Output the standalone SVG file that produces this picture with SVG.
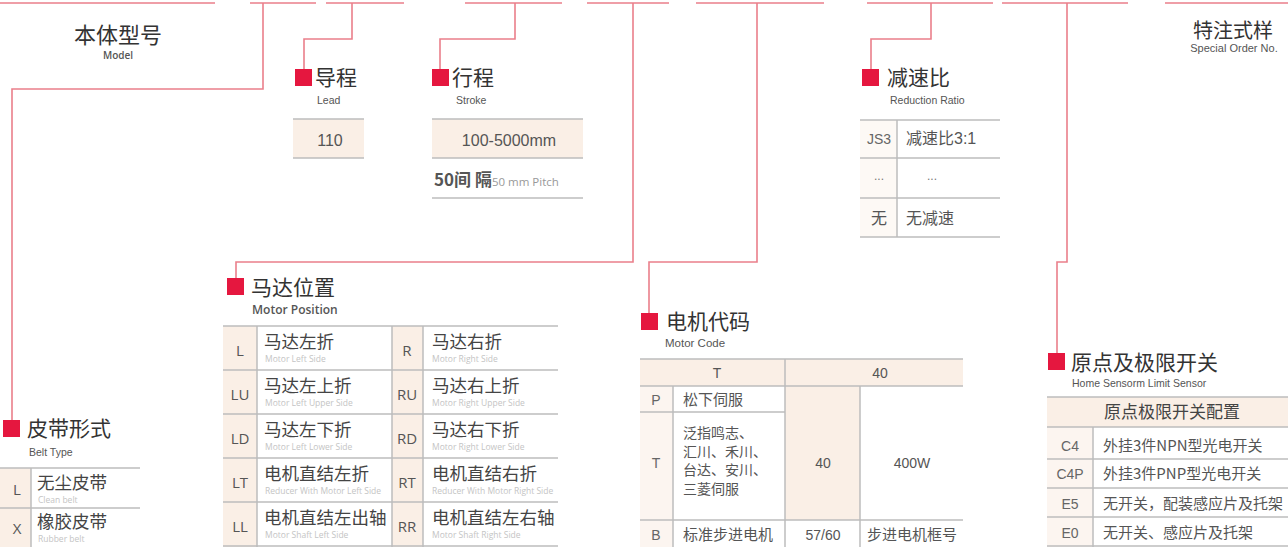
<svg xmlns="http://www.w3.org/2000/svg" width="1288" height="547" viewBox="0 0 1288 547">
<style>
.cn{font-family:"Noto Sans CJK SC","Noto Sans",sans-serif;}
.h{font-size:21px;fill:#333;}
.en{font-family:"Liberation Sans","Open Sans",sans-serif;}
.sub{font-size:10.5px;fill:#555;}
.c{font-family:"Noto Sans CJK SC",sans-serif;font-size:17.5px;fill:#444;}
.e{font-family:"Open Sans","Liberation Sans",sans-serif;font-size:8.5px;fill:#c4c4c4;}
.k{font-family:"Open Sans","Liberation Sans",sans-serif;font-size:15px;fill:#555;text-anchor:middle;}
.t{font-family:"Noto Sans CJK SC",sans-serif;font-size:15px;fill:#555;}
.tt{font-family:"Noto Sans CJK SC",sans-serif;font-size:14px;fill:#555;}
.mid{text-anchor:middle;}
.sq{fill:#e5173f;}
.ln{stroke:#bdbdbd;stroke-width:1.5;fill:none;}
.cream{fill:#faefe6;}
.con{stroke:#ea7f8b;stroke-width:1.6;fill:none;}
</style>

<g id="connectors">
<path class="con" d="M0 3H215M250 3H316M326 3H404M465 3H562M587 3H669M696 3H824M867 3H993M1002 3H1128M1165 3H1288"/>
<path class="con" d="M263 3V89H12V420"/>
<path class="con" d="M352 3V39H304V69"/>
<path class="con" d="M515 3V39H440V69"/>
<path class="con" d="M633 3V262H236V279"/>
<path class="con" d="M757 3V262H649V313"/>
<path class="con" d="M931 3V39H871V69"/>
<path class="con" d="M1067 3V262H1057V353"/>
</g>

<g id="model">
<text class="cn mid" x="118" y="43" font-size="22" fill="#333">本体型号</text>
<text class="mid" x="118" y="59" font-family="Open Sans, sans-serif" font-size="10" fill="#555" font-weight="600">Model</text>
</g>

<g id="special">
<text class="cn mid" x="1233" y="38" font-size="20" fill="#333">特注式样</text>
<text class="en mid" x="1234" y="52" font-size="11" fill="#555">Special Order No.</text>
</g>

<g id="lead">
<rect class="sq" x="295" y="69" width="17" height="17"/>
<text class="cn h" x="315" y="85">导程</text>
<text class="en sub" x="317" y="104">Lead</text>
<rect class="cream" x="293" y="119" width="71" height="39"/>
<path class="ln" d="M293 119H364M293 158H364"/>
<text class="en mid" x="330" y="146" font-size="16" fill="#555">110</text>
</g>

<g id="stroke">
<rect class="sq" x="432" y="69" width="17" height="17"/>
<text class="cn h" x="452" y="85">行程</text>
<text class="en sub" x="456" y="104">Stroke</text>
<rect class="cream" x="432" y="119" width="151" height="39"/>
<path class="ln" d="M432 119H583M432 158H583M432 198H583"/>
<text class="en mid" x="509" y="146" font-size="16" fill="#555">100-5000mm</text>
<text x="434" y="186"><tspan class="cn" font-size="17" fill="#555" font-weight="bold">50间 隔</tspan><tspan font-family="Open Sans, sans-serif" font-size="11.5" fill="#999">50 mm Pitch</tspan></text>
</g>

<g id="reduction">
<rect class="sq" x="862" y="69" width="17" height="17"/>
<text class="cn h" x="887" y="85">减速比</text>
<text class="en sub" x="890" y="104">Reduction Ratio</text>
<rect class="cream" x="860" y="120" width="37" height="117" opacity="0.4"/>
<path class="ln" d="M860 120H1000M860 158H1000M860 198H1000M860 237H1000M897 120V237"/>
<text class="en mid" x="879" y="144" font-size="14" fill="#666">JS3</text>
<text x="906" y="144"><tspan class="cn" font-size="16" fill="#555">减速比</tspan><tspan class="en" font-size="16" fill="#555">3:1</tspan></text>
<text class="en mid" x="879" y="180" font-size="12" fill="#777">...</text>
<text class="en mid" x="932" y="180" font-size="12" fill="#777">...</text>
<text class="cn mid" x="879" y="224" font-size="16" fill="#555">无</text>
<text class="cn" x="906" y="224" font-size="16" fill="#555">无减速</text>
</g>

<g id="belt">
<rect class="sq" x="3" y="420" width="17" height="17"/>
<text class="cn h" x="27" y="436">皮带形式</text>
<text class="en sub" x="29" y="456">Belt Type</text>
<rect class="cream" x="0" y="468" width="31" height="79"/>
<path class="ln" d="M0 468H140M0 508H140M31 468V547"/>
<text class="k" x="17" y="495">L</text>
<text class="c" x="37" y="489">无尘皮带</text>
<text class="e" x="38" y="503">Clean belt</text>
<text class="k" x="17" y="534">X</text>
<text class="c" x="37" y="528">橡胶皮带</text>
<text class="e" x="38" y="542">Rubber belt</text>
</g>

<g id="motor-position">
<rect class="sq" x="227" y="278" width="17" height="17"/>
<text class="cn h" x="251" y="295">马达位置</text>
<text x="252" y="314" font-family="Open Sans, sans-serif" font-size="12" font-weight="600" fill="#555">Motor Position</text>
<rect class="cream" x="223" y="326" width="34" height="221"/>
<rect class="cream" x="392" y="326" width="31" height="221"/>
<path class="ln" d="M223 326H558M223 370H558M223 414H558M223 458H558M223 502H558M223 546H558M257 326V547M392 326V547M423 326V547"/>
<text class="k" x="240" y="356">L</text>
<text class="c" x="264" y="348">马达左折</text>
<text class="e" x="265" y="362">Motor Left Side</text>
<text class="k" x="407" y="356">R</text>
<text class="c" x="432" y="348">马达右折</text>
<text class="e" x="432" y="362">Motor Right Side</text>

<text class="k" x="240" y="400">LU</text>
<text class="c" x="264" y="392">马达左上折</text>
<text class="e" x="265" y="406">Motor Left Upper Side</text>
<text class="k" x="407" y="400">RU</text>
<text class="c" x="432" y="392">马达右上折</text>
<text class="e" x="432" y="406">Motor Right Upper Side</text>

<text class="k" x="240" y="444">LD</text>
<text class="c" x="264" y="436">马达左下折</text>
<text class="e" x="265" y="450">Motor Left Lower Side</text>
<text class="k" x="407" y="444">RD</text>
<text class="c" x="432" y="436">马达右下折</text>
<text class="e" x="432" y="450">Motor Right Lower Side</text>

<text class="k" x="240" y="488">LT</text>
<text class="c" x="264" y="480">电机直结左折</text>
<text class="e" x="265" y="494">Reducer With Motor Left Side</text>
<text class="k" x="407" y="488">RT</text>
<text class="c" x="432" y="480">电机直结右折</text>
<text class="e" x="432" y="494">Reducer With Motor Right Side</text>

<text class="k" x="240" y="532">LL</text>
<text class="c" x="264" y="524">电机直结左出轴</text>
<text class="e" x="265" y="538">Motor Shaft Left Side</text>
<text class="k" x="407" y="532">RR</text>
<text class="c" x="432" y="524">电机直结左右轴</text>
<text class="e" x="432" y="538">Motor Shaft Right Side</text>
</g>

<g id="motor-code">
<rect class="sq" x="641" y="313" width="17" height="17"/>
<text class="cn h" x="666" y="329">电机代码</text>
<text class="en" x="665" y="347" font-size="11.5" fill="#555">Motor Code</text>
<rect class="cream" x="640" y="359" width="323" height="27"/>
<rect class="cream" x="785" y="386" width="75" height="134"/>
<rect class="cream" x="640" y="386" width="33" height="161" opacity="0.6"/>
<path class="ln" d="M640 359H963M640 386H963M640 412H785M640 520H963M785 359V547M673 386V547M860 386V547"/>
<text class="en mid" x="717" y="378" font-size="14" fill="#555">T</text>
<text class="en mid" x="880" y="378" font-size="14" fill="#555">40</text>
<text class="en mid" x="656" y="405" font-size="14" fill="#666">P</text>
<text class="t" x="683" y="405">松下伺服</text>
<text class="en mid" x="656" y="468" font-size="14" fill="#666">T</text>
<text class="tt" x="683" y="438">泛指鸣志、</text>
<text class="tt" x="683" y="457">汇川、禾川、</text>
<text class="tt" x="683" y="475">台达、安川、</text>
<text class="tt" x="683" y="494">三菱伺服</text>
<text class="en mid" x="823" y="468" font-size="14" fill="#555">40</text>
<text class="en mid" x="912" y="468" font-size="14" fill="#555">400W</text>
<text class="en mid" x="656" y="540" font-size="14" fill="#666">B</text>
<text class="t" x="683" y="540">标准步进电机</text>
<text class="en mid" x="823" y="540" font-size="14" fill="#555">57/60</text>
<text class="t mid" x="912" y="540">步进电机框号</text>
</g>

<g id="home-sensor">
<rect class="sq" x="1048" y="353" width="17" height="17"/>
<text class="cn h" x="1071" y="370">原点及极限开关</text>
<text class="en" x="1072" y="387" font-size="10.5" fill="#555">Home Sensorm Limit Sensor</text>
<rect class="cream" x="1047" y="397" width="241" height="30"/>
<rect class="cream" x="1047" y="427" width="46" height="120" opacity="0.6"/>
<path class="ln" d="M1047 397H1288M1047 427H1288M1047 459H1288M1047 488H1288M1047 517H1288M1047 546H1288M1093 427V547"/>
<text class="cn mid" x="1172" y="418" font-size="17" fill="#444">原点极限开关配置</text>
<text class="en mid" x="1070" y="451" font-size="14" fill="#666">C4</text>
<text class="t" x="1103" y="451">外挂3件NPN型光电开关</text>
<text class="en mid" x="1070" y="479" font-size="14" fill="#666">C4P</text>
<text class="t" x="1103" y="479">外挂3件PNP型光电开关</text>
<text class="en mid" x="1070" y="509" font-size="14" fill="#666">E5</text>
<text class="t" x="1103" y="509">无开关，配装感应片及托架</text>
<text class="en mid" x="1070" y="538" font-size="14" fill="#666">E0</text>
<text class="t" x="1103" y="538">无开关、感应片及托架</text>
</g>
</svg>
